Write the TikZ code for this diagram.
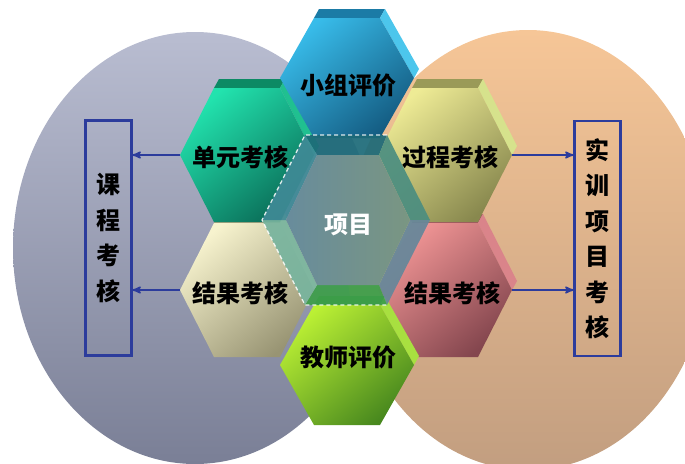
\documentclass[tikz,border=0pt]{standalone}
\usepackage{fontspec}
\newfontfamily\cjk{Noto Sans CJK SC}
\usetikzlibrary{arrows}
% ellipses
\definecolor{ellLt}{HTML}{B9BDD1}
\definecolor{ellLb}{HTML}{7A7F96}
\definecolor{ellRt}{HTML}{F6C697}
\definecolor{ellRb}{HTML}{C29E80}
% hexagon colours: light, dark, top face, side face
\definecolor{xzL}{HTML}{38BCEA}\definecolor{xzD}{HTML}{145C82}\definecolor{xzT}{HTML}{1B7BA6}\definecolor{xzS}{HTML}{4CC6EC}
\definecolor{dyL}{HTML}{22E3AE}\definecolor{dyD}{HTML}{0A6C57}\definecolor{dyT}{HTML}{0C8A64}\definecolor{dyS}{HTML}{20C090}
\definecolor{gcL}{HTML}{EEEB95}\definecolor{gcD}{HTML}{88884E}\definecolor{gcT}{HTML}{9A9A58}\definecolor{gcS}{HTML}{D6E28C}
\definecolor{jglL}{HTML}{F7F3CE}\definecolor{jglD}{HTML}{989473}\definecolor{jglT}{HTML}{A8A480}\definecolor{jglS}{HTML}{E0DCB0}
\definecolor{jgrL}{HTML}{F29696}\definecolor{jgrD}{HTML}{84464E}\definecolor{jgrT}{HTML}{A05860}\definecolor{jgrS}{HTML}{DA848A}
\definecolor{jsL}{HTML}{BBF034}\definecolor{jsD}{HTML}{48881E}\definecolor{jsT}{HTML}{3C9A3A}\definecolor{jsS}{HTML}{A8E040}
% project well
\definecolor{wT}{HTML}{1D6A78}
\definecolor{wUR}{HTML}{4C8E80}
\definecolor{wLR}{HTML}{66879A}
\definecolor{wB}{HTML}{3D9E4A}
\definecolor{wLL}{HTML}{78B49E}
\definecolor{wUL}{HTML}{3F8A96}
\definecolor{wInL}{HTML}{688C9C}
\definecolor{wInR}{HTML}{7A9682}
\definecolor{kblue}{HTML}{2C3C9C}
\tikzset{
    %Define standard arrow tip
    >=stealth',
    % Define arrow style
    pil/.style={
           ->,
           draw=kblue,
           line width=1.8pt}
}
\begin{document}
\begin{tikzpicture}[x=1pt, y=-1pt,
hexlabel/.style={font=\cjk\bfseries\fontsize{24}{24}\selectfont, inner sep=0pt},
kuang/.style={draw=kblue, line width=2.2pt, minimum width=46pt, minimum height=235pt,
  inner sep=0pt, align=center, font=\cjk\bfseries\fontsize{24}{35.5}\selectfont}
]
\useasboundingbox (0,0) rectangle (685,463);
\clip (0,0) rectangle (685,463);
%Ellipses
\shade[top color=ellLt, bottom color=ellLb] (195,248) ellipse [x radius=182, y radius=216];
\shade[top color=ellRt, bottom color=ellRb] (528,250) ellipse [x radius=182, y radius=220];
%Hexagons
\foreach \nm/\cx/\cy/\hh/\colL/\colD/\colT/\colS in {
  jgl/247/290/67/jglL/jglD/jglT/jglS,
  jgr/445/290/67/jgrL/jgrD/jgrT/jgrS,
  js/347/365/60/jsL/jsD/jsT/jsS,
  dy/247/155/67/dyL/dyD/dyT/dyS,
  gc/445/155/67/gcL/gcD/gcT/gcS,
  xz/347/78/60/xzL/xzD/xzT/xzS}{
  \fill[\colT] (\cx-33,\cy-\hh) -- (\cx+33,\cy-\hh) -- ++(5,-9) -- (\cx-28,\cy-\hh-9) -- cycle;
  \fill[\colS] (\cx+33,\cy-\hh) -- (\cx+67,\cy) -- ++(5,-9) -- (\cx+38,\cy-\hh-9) -- cycle;
  \shade[top color=\colL, bottom color=\colD, shading angle=40]
    (\cx-67,\cy) -- (\cx-33,\cy-\hh) -- (\cx+33,\cy-\hh) -- (\cx+67,\cy)
    -- (\cx+33,\cy+\hh) -- (\cx-33,\cy+\hh) -- cycle;
  \coordinate (\nm-w) at (\cx-67,\cy);
  \coordinate (\nm-e) at (\cx+67,\cy);
}
%Project well
\begin{scope}[opacity=.93]
\fill[wT] (305,135) -- (387,135) -- (379,155) -- (317,155) -- cycle;
\fill[wUR] (387,135) -- (430,220) -- (410,220) -- (379,155) -- cycle;
\fill[wLR] (430,220) -- (387,305) -- (379,285) -- (410,220) -- cycle;
\fill[wB] (387,305) -- (305,305) -- (317,285) -- (379,285) -- cycle;
\fill[wLL] (305,305) -- (262,220) -- (286,220) -- (317,285) -- cycle;
\fill[wUL] (262,220) -- (305,135) -- (317,155) -- (286,220) -- cycle;
\end{scope}
\shade[left color=wInL, right color=wInR] (286,220) -- (317,155) -- (379,155)
  -- (410,220) -- (379,285) -- (317,285) -- cycle;
\draw[white, opacity=.85, line width=1.3pt, dash pattern=on 4pt off 3pt]
  (387,135) -- (305,135) -- (262,220) -- (305,305) -- (387,305);
%Nodes
\node[hexlabel] (xzpj) at (348,85) {小组评价};
\node[hexlabel] (dykh) at (240,157) {单元考核};
\node[hexlabel] (gckh) at (450,157) {过程考核};
\node[hexlabel, text=white] (xm) at (348,225) {项目};
\node[hexlabel] (jgkh1) at (240,293) {结果考核};
\node[hexlabel] (jgkh2) at (452,293) {结果考核};
\node[hexlabel] (jspj) at (348,357) {教师评价};
\node[kuang] (kckh) at (108.5,238) {课\\程\\考\\核};
\node[kuang] (sxkh) at (597.5,238.5) {实\\训\\项\\目\\考\\核};
%Arrows
\draw[pil] (dy-w) -- (dy-w -| kckh.east);
\draw[pil] (jgl-w) -- (jgl-w -| kckh.east);
\draw[pil] (gc-e) -- (gc-e -| sxkh.west);
\draw[pil] (jgr-e) -- (jgr-e -| sxkh.west);
\end{tikzpicture}
\end{document}
